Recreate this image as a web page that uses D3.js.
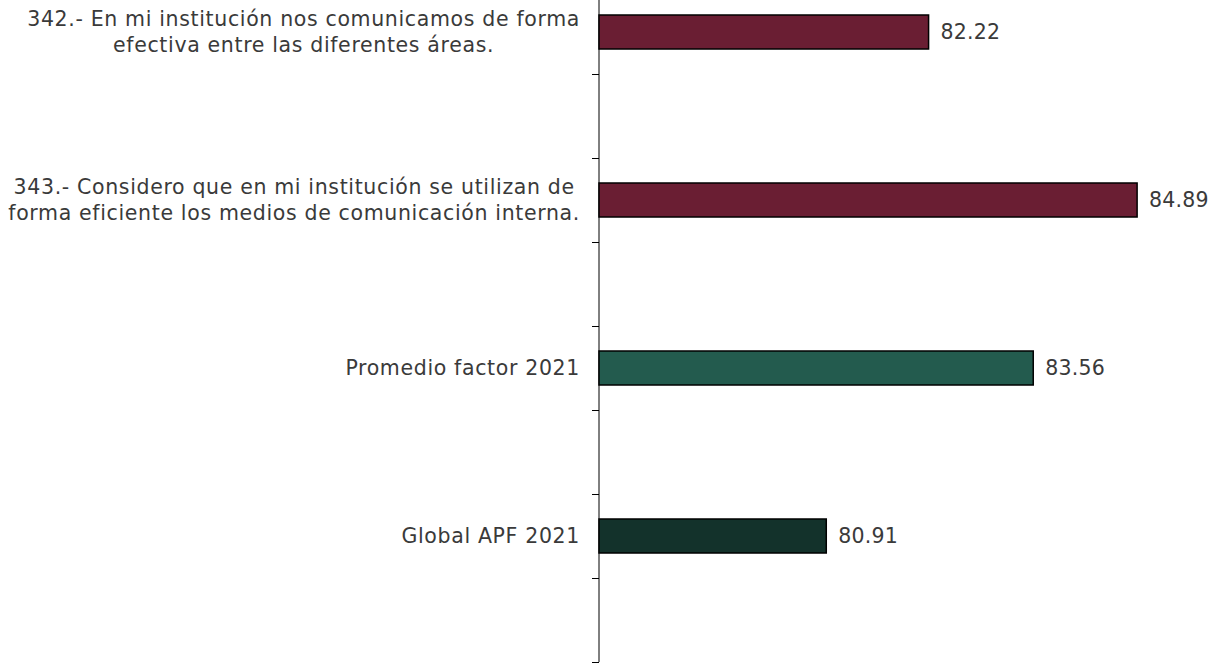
<!DOCTYPE html>
<html>
<head>
<meta charset="utf-8">
<script src="https://cdn.jsdelivr.net/npm/d3@7"></script>
<style>
  body { margin: 0; background: #fff; }
  svg { display: block; }
  .lbl, .val { font-family: "DejaVu Sans", sans-serif; font-size: 20.5px; fill: #3a3a3a; }
  .lbl { letter-spacing: 0.65px; }
  .val { letter-spacing: 0.2px; }
</style>
</head>
<body>
<svg width="1211" height="664"></svg>
<script>
const categories = [
  "342.- En mi institución nos comunicamos de forma|efectiva entre las diferentes áreas.",
  "343.- Considero que en mi institución se utilizan de|forma eficiente los medios de comunicación interna.",
  "Promedio factor 2021",
  "Global APF 2021"
];
const values = [82.22, 84.89, 83.56, 80.91];
const colors = ["#6A1E33", "#6A1E33", "#235B4E", "#13322B"];

const svg = d3.select("svg");
const axisX = 599;

const x = d3.scaleLinear().domain([78, 85]).range([axisX, axisX + 7 * 78.1]);
// 8 slots, every other one holds a bar
const slot = d3.scaleLinear().domain([0, 8]).range([-10, 662]);
const barH = 34;

const yAxis = d3.axisLeft(slot)
  .tickValues(d3.range(1, 9))
  .tickFormat("")
  .tickSize(7)
  .tickSizeOuter(0);

const ag = svg.append("g")
  .attr("transform", `translate(${axisX},0)`)
  .call(yAxis);
ag.select(".domain").attr("d", `M0,0V${slot(8)}`).attr("stroke", "#000");
ag.selectAll(".tick line").attr("stroke", "#000");

const yc = i => slot(2 * i + 0.5);

svg.append("g").selectAll("rect")
  .data(values)
  .enter()
  .append("rect")
  .attr("x", x(78))
  .attr("y", (d, i) => yc(i) - barH / 2)
  .attr("width", d => x(d) - x(78))
  .attr("height", barH)
  .attr("fill", (d, i) => colors[i])
  .attr("stroke", "#000")
  .attr("stroke-width", 1.5);

svg.append("g").selectAll("text")
  .data(values)
  .enter()
  .append("text")
  .attr("class", "val")
  .attr("x", d => x(d) + 12)
  .attr("y", (d, i) => yc(i))
  .attr("dy", "0.35em")
  .text(d => d.toFixed(2));

const labelRight = 580;
const lineH = 26;
categories.forEach((c, i) => {
  const lines = c.split("|");
  const t = svg.append("text")
    .attr("class", "lbl")
    .attr("text-anchor", "middle");
  const spans = lines.map((ln, j) => t.append("tspan")
    .attr("y", yc(i) + (j - (lines.length - 1) / 2) * lineH)
    .attr("dy", "0.35em")
    .text(ln));
  const maxW = d3.max(spans, s => s.node().getComputedTextLength());
  spans.forEach(s => s.attr("x", labelRight - maxW / 2));
});
</script>
</body>
</html>
